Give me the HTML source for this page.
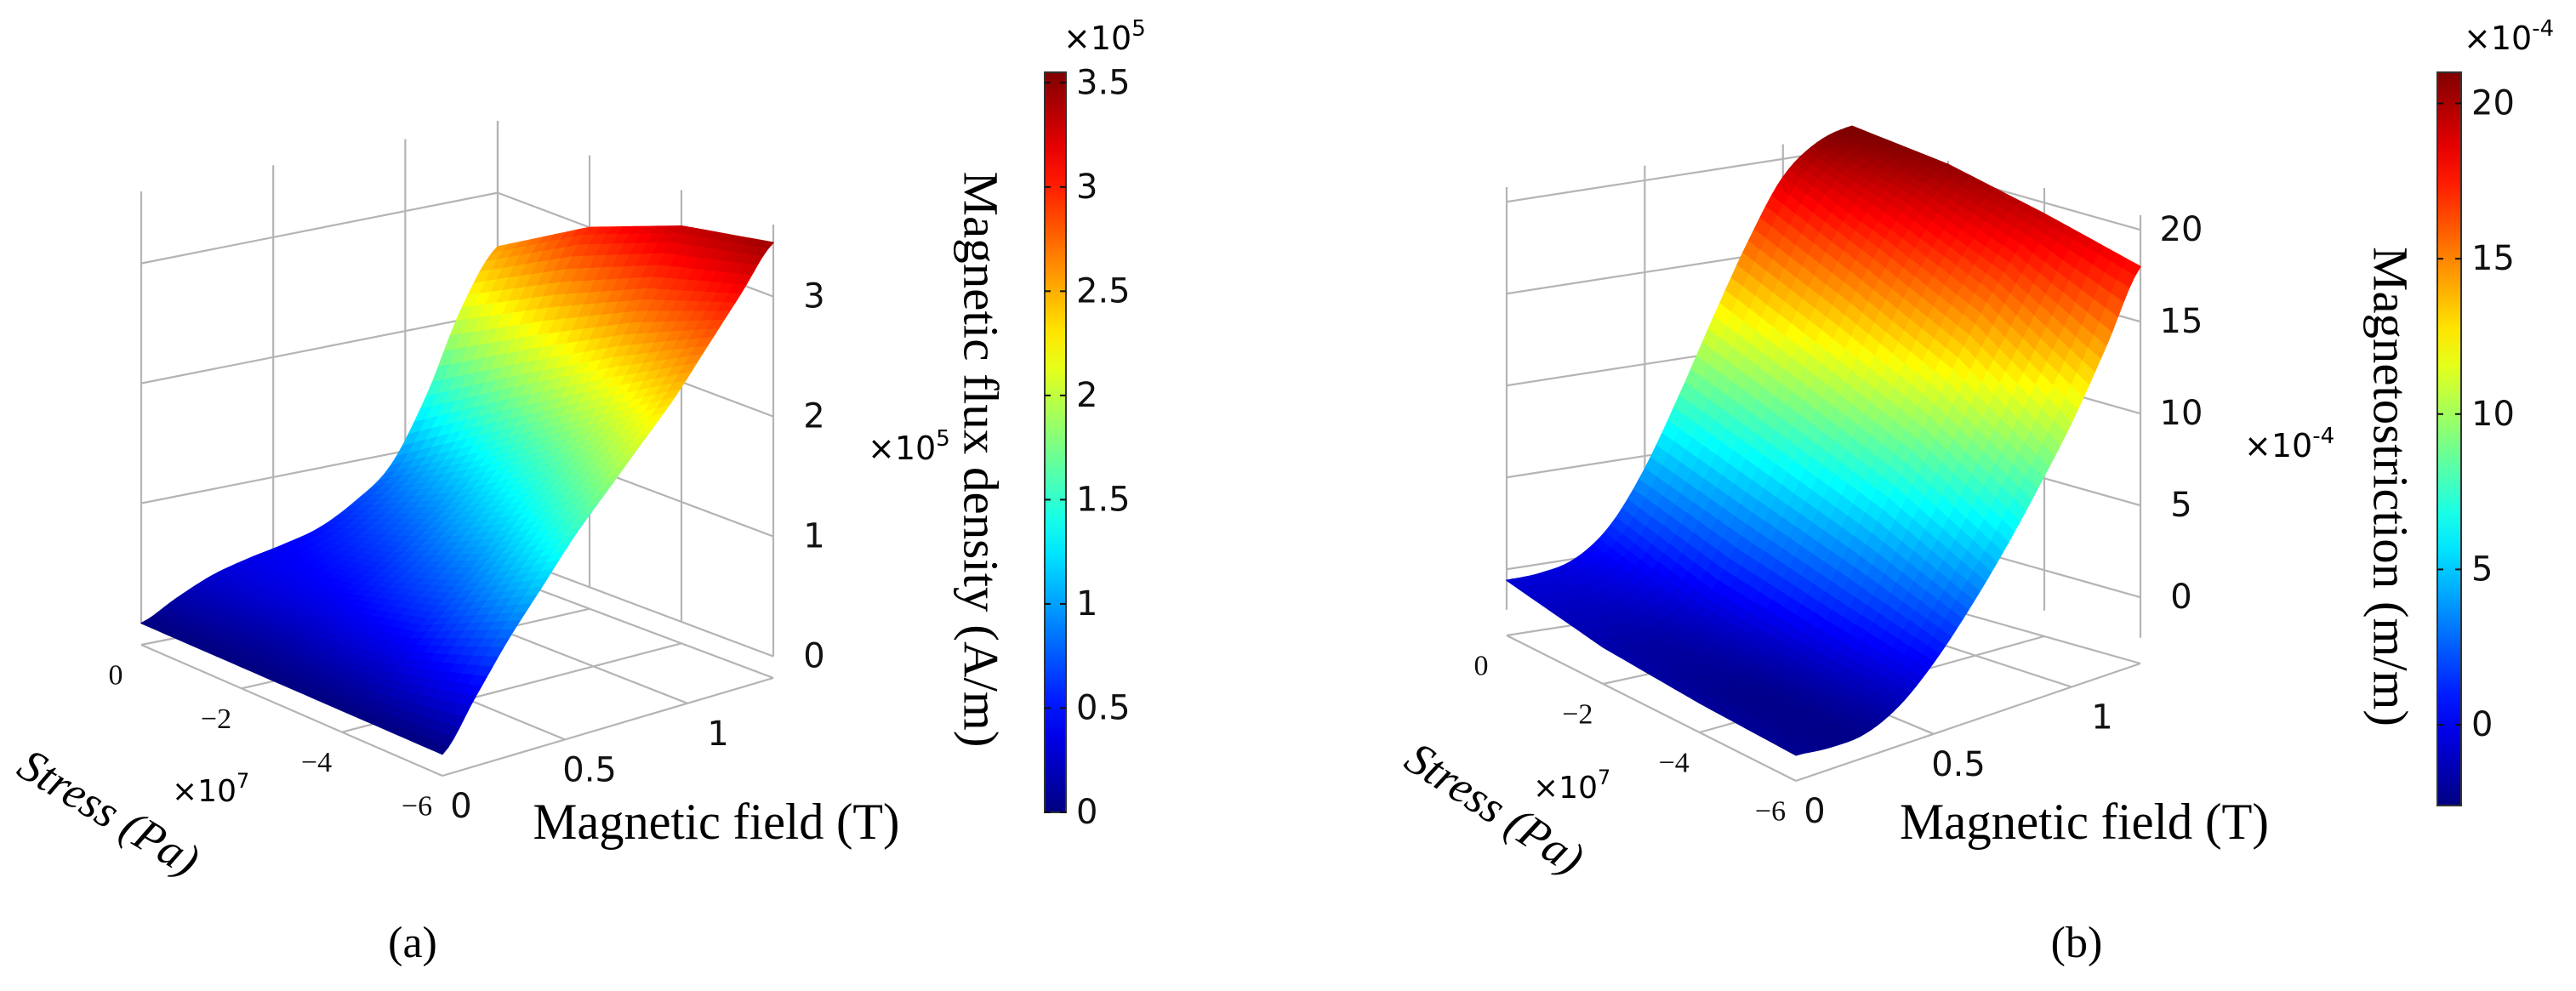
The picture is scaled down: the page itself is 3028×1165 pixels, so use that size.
<!DOCTYPE html>
<html><head><meta charset="utf-8"><style>
html,body{margin:0;padding:0;background:#fff}
svg{display:block}
.tk{font-family:"DejaVu Sans","Liberation Sans",sans-serif;font-size:40px;fill:#111}
.st{font-family:"Liberation Serif",serif;font-size:34px;fill:#111}
.ti{font-family:"Liberation Serif",serif;fill:#000}
</style></head><body>
<svg id="fig" width="3028" height="1165" viewBox="0 0 3028 1165" xmlns="http://www.w3.org/2000/svg">
<rect width="3028" height="1165" fill="#fff"/>
<defs>
<linearGradient id="jet" x1="0" y1="1" x2="0" y2="0"></linearGradient>
</defs>
<g id="pa"></g>
<g id="pb"></g>
</svg>
<script>
// ---- data ----
const stressTicks = [0, -2, -4, -6];
const stressRows = [0, -2, -4, -6];
const fieldA = [0, 0.135, 0.27, 0.405, 0.54, 0.675, 0.81, 0.945, 1.08, 1.215, 1.35];
const fluxS0 = [0, 0.15, 0.28, 0.36, 0.42, 0.5, 0.66, 0.9, 1.42, 2.1, 2.55];
const fluxS2 = [0, 0.12, 0.3, 0.45, 0.6, 0.8, 1.05, 1.4, 1.9, 2.5, 3.0];
const fluxS4 = [0, 0.2, 0.45, 0.7, 0.95, 1.25, 1.55, 1.9, 2.35, 2.85, 3.3];
const fluxS6 = [0, 0.4, 0.8, 1.15, 1.5, 1.8, 2.1, 2.4, 2.75, 3.1, 3.45];
const fieldB = [0, 0.125, 0.25, 0.375, 0.5, 0.625, 0.75, 0.875, 1.0, 1.125, 1.25];
const magS0 = [-0.6, -0.5, 0.0, 1.5, 4.3, 8.0, 12.0, 15.8, 19.0, 20.6, 21.2];
const magS2 = [-1.6, -1.8, -1.5, -0.2, 2.8, 6.3, 10.0, 13.6, 16.8, 19.2, 20.6];
const magS4 = [-2.0, -2.3, -2.2, -1.0, 1.5, 4.6, 7.9, 11.2, 14.4, 17.2, 19.4];
const magS6 = [-2.2, -2.4, -2.3, -1.4, 0.3, 2.5, 5.0, 7.8, 10.8, 14.3, 18.0];
const fieldTicks = [0, 0.5, 1];
const fieldTickLabels = ["0", "0.5", "1"];
const zTicksA = [0, 1, 2, 3];
const zTicksB = [0, 5, 10, 15, 20];
const cbTicksA = [0, 0.5, 1, 1.5, 2, 2.5, 3, 3.5];
const cbLabelsA = ["0", "0.5", "1", "1.5", "2", "2.5", "3", "3.5"];
const cbTicksB = [0, 5, 10, 15, 20];

const NS = "http://www.w3.org/2000/svg";
function el(tag, attrs, parent, text) {
  const e = document.createElementNS(NS, tag);
  for (const k in attrs) e.setAttribute(k, attrs[k]);
  if (text !== undefined) e.textContent = text;
  parent.appendChild(e);
  return e;
}
function jet(v) {
  v = Math.max(0, Math.min(1, v));
  const c = x => Math.round(255 * Math.max(0, Math.min(1, x)));
  return `rgb(${c(1.5 - Math.abs(4 * v - 3))},${c(1.5 - Math.abs(4 * v - 2))},${c(1.5 - Math.abs(4 * v - 1))})`;
}
const grad = document.getElementById('jet');
for (let i = 0; i <= 20; i++) el('stop', {offset: (i / 20), 'stop-color': jet(i / 20)}, grad);

function cr(row, c, u) {
  const n = row.length;
  const p = i => row[Math.max(0, Math.min(n - 1, i))];
  const p0 = p(c - 1), p1 = p(c), p2 = p(c + 1), p3 = p(c + 2);
  const u2 = u * u, u3 = u2 * u;
  return 0.5 * ((2 * p1) + (-p0 + p2) * u + (2 * p0 - 5 * p1 + 4 * p2 - p3) * u2 + (-p0 + 3 * p1 - 3 * p2 + p3) * u3);
}

function build(g, P) {
  const proj = (s, t, z) => {
    const u = s / -6;
    const x = (1-u)*(1-t)*P.A[0] + (1-u)*t*P.B[0] + u*(1-t)*P.C[0] + u*t*P.D[0];
    const y = (1-u)*(1-t)*P.A[1] + (1-u)*t*P.B[1] + u*(1-t)*P.C[1] + u*t*P.D[1];
    return [x, y - P.k * (z - P.zf)];
  };
  const tf = f => f / P.fmax;
  const line = (a, b, name) => {
    const l = el('line', {x1: a[0], y1: a[1], x2: b[0], y2: b[1], stroke: '#b4b4b4', 'stroke-width': 2.2}, g);
    
    
  };
  const lw = [0, ...fieldTicks.slice(1), P.fmax];
  lw.forEach(f => line(proj(0, tf(f), P.zw0), proj(0, tf(f), P.zw1), 'left-wall-gridline'));
  P.zTicks.forEach(z => line(proj(0, 0, z), proj(0, 1, z), 'left-wall-gridline'));
  stressTicks.forEach(s => line(proj(s, 1, P.zw0), proj(s, 1, P.zw1), 'right-wall-gridline'));
  P.zTicks.forEach(z => line(proj(0, 1, z), proj(-6, 1, z), 'right-wall-gridline'));
  stressTicks.forEach(s => line(proj(s, 0, P.zf), proj(s, 1, P.zf), 'floor-gridline'));
  [0, ...fieldTicks.slice(1), P.fmax].forEach(f => line(proj(0, tf(f), P.zf), proj(-6, tf(f), P.zf), 'floor-gridline'));
  const rows = P.rows;
  const surf = el('g', {}, g);
  
  
  const SD = 8, TD = 6;
  const nT = P.field.length;
  for (let r = 0; r < rows.length - 1; r++) {
    for (let a = 0; a < SD; a++) {
      for (let c = nT - 2; c >= 0; c--) {
        for (let b = TD - 1; b >= 0; b--) {
          const pts = [], vals = [];
          [[a, b], [a, b + 1], [a + 1, b + 1], [a + 1, b]].forEach(([aa, bb]) => {
            const us = aa / SD, ut = bb / TD;
            const z = (1 - us) * cr(rows[r], c, ut) + us * cr(rows[r + 1], c, ut);
            const s = stressRows[r] + us * (stressRows[r+1] - stressRows[r]);
            const f = P.field[c] + ut * (P.field[c+1] - P.field[c]);
            const p = proj(s, tf(f), z);
            pts.push(p[0].toFixed(1) + ',' + p[1].toFixed(1));
            vals.push(z);
          });
          const v = vals.reduce((x, y) => x + y, 0) / 4;
          const col = jet((v - P.vmin) / (P.vmax - P.vmin));
          const pg = el('polygon', {points: pts.join(' '), fill: col, stroke: col, 'stroke-width': 1.4, 'stroke-linejoin': 'round'}, surf);
          
          
        }
      }
    }
  }
  P.zTicks.forEach(z => {
    const p = proj(-6, 1, z);
    const t = el('text', {x: p[0] + 48, y: p[1], class: 'tk', 'text-anchor': 'middle', 'dominant-baseline': 'central'}, g, String(z));
    
    
  });
  stressTicks.forEach(s => {
    const p = proj(s, 0, P.zf);
    const t = el('text', {x: p[0] - 30, y: p[1] + 36, class: 'st', 'text-anchor': 'middle', 'dominant-baseline': 'central'}, g, s === 0 ? '0' : '\u2212' + Math.abs(s));
    
    
  });
  fieldTicks.forEach((f, i) => {
    const p = proj(-6, tf(f), P.zf);
    const t = el('text', {x: p[0] + 22 + 14 * f, y: p[1] + 36, class: 'tk', 'text-anchor': 'middle', 'dominant-baseline': 'central'}, g, fieldTickLabels[i]);
    
    
  });
  const cb = el('g', {}, g);
  
  
  const [bx, by0, bw, by1] = P.cb;
  el('rect', {x: bx, y: by0, width: bw, height: by1 - by0, fill: 'url(#jet)', stroke: '#333', 'stroke-width': 2}, cb);
  const cy = v => by1 - (v - P.vmin) / (P.vmax - P.vmin) * (by1 - by0);
  P.cbTicks.forEach((v, i) => {
    const y = cy(v);
    el('line', {x1: bx, y1: y, x2: bx + 7, y2: y, stroke: '#111', 'stroke-width': 2}, cb);
    el('line', {x1: bx + bw - 7, y1: y, x2: bx + bw, y2: y, stroke: '#111', 'stroke-width': 2}, cb);
    const t = el('text', {x: bx + bw + 12, y: y, class: 'tk', 'dominant-baseline': 'central'}, cb, P.cbLabels[i]);
    
    
  });
}

build(document.getElementById('pa'), {
  A: [166, 758], B: [585, 675], C: [520, 912], D: [909, 797], k: 141, zf: -0.18,
  zw0: 0, zw1: 3.6, zTicks: zTicksA, fmax: 1.35, field: fieldA,
  rows: [fluxS0, fluxS2, fluxS4, fluxS6], vmin: 0, vmax: 3.55,
  cb: [1228, 85, 25, 955], cbTicks: cbTicksA, cbLabels: cbLabelsA
});
build(document.getElementById('pb'), {
  A: [1771, 747], B: [2177, 684], C: [2111, 918], D: [2516, 780], k: 21.6, zf: -3.6,
  zw0: -2.2, zw1: 20.8, zTicks: zTicksB, fmax: 1.25, field: fieldB,
  rows: [magS0, magS2, magS4, magS6], vmin: -2.6, vmax: 21,
  cb: [2865, 85, 28, 947], cbTicks: cbTicksB, cbLabels: cbTicksB.map(String)
});
</script>
<svg style="position:absolute;left:0;top:0" width="3028" height="1165" xmlns="http://www.w3.org/2000/svg">
  <text x="1020" y="540" font-family="DejaVu Sans, sans-serif" font-size="38">×10<tspan font-size="26" dy="-16">5</tspan></text>
  <text x="1250" y="58" font-family="DejaVu Sans, sans-serif" font-size="38">×10<tspan font-size="26" dy="-16">5</tspan></text>
  <text x="202" y="942" font-family="DejaVu Sans, sans-serif" font-size="36">×10<tspan font-size="24" dy="-16">7</tspan></text>
  <text class="ti" font-size="54" font-style="italic" transform="translate(128,955) rotate(31)" text-anchor="middle" dominant-baseline="central">Stress (Pa)</text>
  <text class="ti" x="842" y="986" font-size="60" text-anchor="middle" textLength="431" lengthAdjust="spacingAndGlyphs">Magnetic field (T)</text>
  <text class="ti" font-size="58" transform="translate(1153,540) rotate(90)" text-anchor="middle" dominant-baseline="central" textLength="677" lengthAdjust="spacingAndGlyphs">Magnetic flux density (A/m)</text>
  <text class="ti" x="485" y="1125" font-size="52" text-anchor="middle">(a)</text>

  <text x="2638" y="537" font-family="DejaVu Sans, sans-serif" font-size="38">×10<tspan font-size="26" dy="-16">-4</tspan></text>
  <text x="2896" y="58" font-family="DejaVu Sans, sans-serif" font-size="38">×10<tspan font-size="26" dy="-16">-4</tspan></text>
  <text x="1802" y="938" font-family="DejaVu Sans, sans-serif" font-size="36">×10<tspan font-size="24" dy="-16">7</tspan></text>
  <text class="ti" font-size="54" font-style="italic" transform="translate(1757,950) rotate(33)" text-anchor="middle" dominant-baseline="central">Stress (Pa)</text>
  <text class="ti" x="2450" y="986" font-size="60" text-anchor="middle" textLength="434" lengthAdjust="spacingAndGlyphs">Magnetic field (T)</text>
  <text class="ti" font-size="58" transform="translate(2810,572) rotate(90)" text-anchor="middle" dominant-baseline="central" textLength="564" lengthAdjust="spacingAndGlyphs">Magnetostriction (m/m)</text>
  <text class="ti" x="2441" y="1125" font-size="52" text-anchor="middle">(b)</text>
</svg>
</body></html>
